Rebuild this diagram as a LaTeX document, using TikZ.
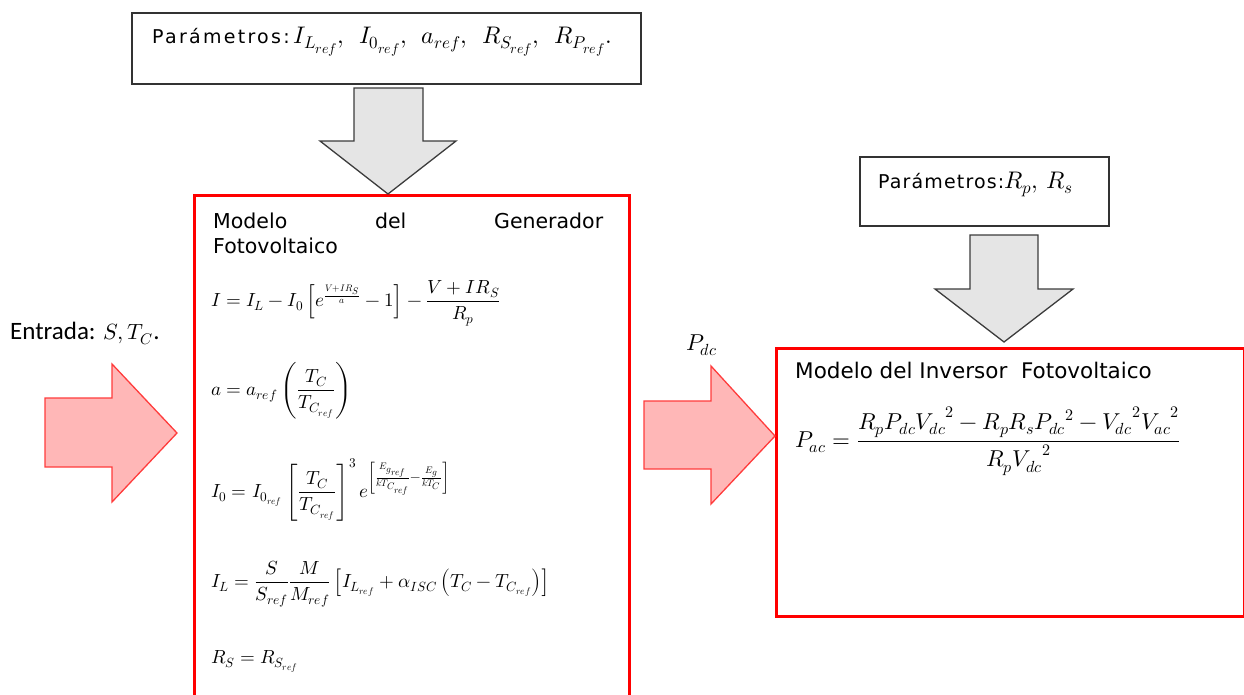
\documentclass[tikz,border=0pt]{standalone}
\usepackage{fontspec}
\usepackage{unicode-math}
\setmainfont{DejaVu Sans}
\setmathfont{Latin Modern Math}
\DeclareMathSizes{24}{24}{17}{14}
\newfontfamily\calfont{Carlito}
\newfontfamily\tahfont[LetterSpace=12]{DejaVu Sans}
\newfontfamily\tahfontb[LetterSpace=6]{DejaVu Sans}
\definecolor{boxred}{RGB}{255,0,0}
\definecolor{pinkfill}{RGB}{255,183,183}
\definecolor{pinkline}{RGB}{255,60,60}
\definecolor{greyfill}{RGB}{229,229,229}
\definecolor{greyline}{RGB}{60,60,60}
\newcommand{\fs}[1]{\fontsize{#1}{#1}\selectfont}
\begin{document}
\begin{tikzpicture}[x=1pt,y=-1pt,
  parbox/.style={draw=black!80, line width=1.6pt, fill=white, inner sep=0pt, anchor=north west},
  redbox/.style={draw=boxred, line width=2.6pt, inner sep=0pt, anchor=north west},
  greyarrow/.style={fill=greyfill, draw=greyline, line width=1.3pt, line join=miter},
  pinkarrow/.style={fill=pinkfill, draw=pinkline, line width=1.3pt, line join=miter},
  lbl/.style={inner sep=0pt, anchor=base west}]
\useasboundingbox (0,0) rectangle (1244,694);
\clip (0,0) rectangle (1244,694);
% boxes
\node[parbox, minimum width=509pt, minimum height=71pt] (tp) at (131,12) {};
\node[redbox, minimum width=435pt, minimum height=530pt] (gen) at (193,194) {};
\node[parbox, minimum width=249pt, minimum height=69pt] (rp) at (859,156) {};
\node[redbox, minimum width=468pt, minimum height=268pt] (inv) at (775,347) {};
% grey arrows
\draw[greyarrow] (354,88) -- (423,88) -- (423,141) -- (456,141) -- (388,194) -- (320,141) -- (354,141) -- cycle;
\draw[greyarrow] (970,235) -- (1038,235) -- (1038,289) -- (1073,289) -- (1004,342) -- (935,289) -- (970,289) -- cycle;
% pink arrows
\draw[pinkarrow] (45,398) -- (112,398) -- (112,364) -- (177,433) -- (112,502) -- (112,467) -- (45,467) -- cycle;
\draw[pinkarrow] (644,401) -- (711,401) -- (711,366) -- (775,436) -- (711,504) -- (711,469) -- (644,469) -- cycle;
% texts
\node[lbl] (tpt) at (152,43) {\fs{19}\tahfont Parámetros:\fs{24}$\,I_{L_{ref}},\;\, I_{0_{ref}},\;\, a_{ref},\;\, R_{S_{ref}},\;\, R_{P_{ref}}.$};
\node[lbl] (rpt) at (878,188) {\fs{19}\tahfontb Parámetros:\fs{24}$R_p,\, R_s$};
\node[lbl] (gt1) at (213,228) {\fs{20.5}\makebox[390pt][s]{Modelo del Generador}};
\node[lbl] (gt2) at (213,253) {\fs{20.5}Fotovoltaico};
\node[lbl] (e1) at (211,306) {\fs{19}$I = I_L - I_0\left[e^{\frac{V+IR_S}{a}}-1\right]-\dfrac{V+IR_S}{R_p}$};
\node[lbl] (e2) at (211,395) {\fs{19}$a = a_{ref}\left(\dfrac{T_C}{T_{C_{ref}}}\right)$};
\node[lbl] (e3) at (211,497) {\fs{19}$I_0 = I_{0_{ref}}\left[\dfrac{T_C}{T_{C_{ref}}}\right]^3 e^{\left[\frac{E_{g_{ref}}}{kT_{C_{ref}}}-\frac{E_g}{kT_C}\right]}$};
\node[lbl] (e4) at (211,587) {\fs{19}$I_L = \dfrac{S}{S_{ref}}\dfrac{M}{M_{ref}}\left[I_{L_{ref}}+\alpha_{ISC}\left(T_C-T_{C_{ref}}\right)\right]$};
\node[lbl] (e5) at (211,663) {\fs{19}$R_S = R_{S_{ref}}$};
\node[lbl] (it) at (795,378) {\fs{21.5}Modelo del Inversor\ \ Fotovoltaico};
\node[lbl] (ie) at (795,447) {\fs{23}$P_{ac} = \dfrac{R_pP_{dc}{V_{dc}}^2-R_pR_sP_{dc}{}^2-{V_{dc}}^2{V_{ac}}^2}{R_p{V_{dc}}^2}$};
\node[lbl] (ent) at (10,339) {\fs{25}\calfont Entrada: \fs{22}$S, T_C$\fs{25}.};
\node[lbl] (pdc) at (686,350) {\fs{23}$P_{dc}$};
\end{tikzpicture}
\end{document}
